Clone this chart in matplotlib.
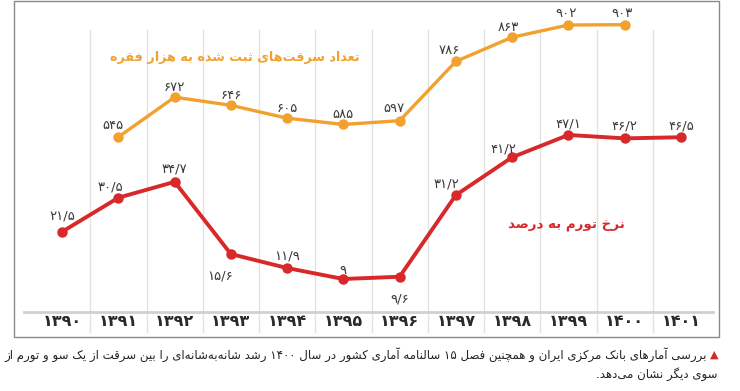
import re
import matplotlib
matplotlib.use('Agg')
import matplotlib.pyplot as plt
from matplotlib.patches import Rectangle
from matplotlib.lines import Line2D

years = ['1390', '1391', '1392', '1393', '1394', '1395', '1396', '1397', '1398', '1399', '1400', '1401']
theft_years = ['1391', '1392', '1393', '1394', '1395', '1396', '1397', '1398', '1399', '1400']
theft = [545, 672, 646, 605, 585, 597, 786, 863, 902, 903]
inflation = [21.5, 30.5, 34.7, 15.6, 11.9, 9, 9.6, 31.2, 41.2, 47.1, 46.2, 46.5]

theft_title = 'تعداد سرقت‌های ثبت شده به هزار فقره'
infl_title = 'نرخ تورم به درصد'
caption1 = 'بررسی آمارهای بانک مرکزی ایران و همچنین فصل ۱۵ سالنامه آماری کشور در سال ۱۴۰۰ رشد شانه‌به‌شانه‌ای را بین سرقت از یک سو و تورم از'
caption2 = 'سوی دیگر نشان می‌دهد.'

# label offsets in points (dx, dy) for value labels
infl_off = [(0, 11), (-6, 8), (0, 9), (-8, -16), (0, 9), (0, 6), (0, -16), (-7, 8), (-6, 6), (0, 8), (0, 9), (0, 8)]
theft_off = [(-4, 8), (0, 7), (0, 7), (0, 7), (0, 7), (-4, 9), (-5, 8), (-3, 7), (-2, 8), (-2, 8)]

# minimal Persian shaping with presentation forms (iso, fin, ini, med)
FORMS = {
    'آ': ('\uFE81', '\uFE82', None, None), 'ا': ('\uFE8D', '\uFE8E', None, None),
    'ب': ('\uFE8F', '\uFE90', '\uFE91', '\uFE92'), 'پ': ('\uFB56', '\uFB57', '\uFB58', '\uFB59'),
    'ت': ('\uFE95', '\uFE96', '\uFE97', '\uFE98'), 'ث': ('\uFE99', '\uFE9A', '\uFE9B', '\uFE9C'),
    'ج': ('\uFE9D', '\uFE9E', '\uFE9F', '\uFEA0'), 'چ': ('\uFB7A', '\uFB7B', '\uFB7C', '\uFB7D'),
    'ح': ('\uFEA1', '\uFEA2', '\uFEA3', '\uFEA4'), 'خ': ('\uFEA5', '\uFEA6', '\uFEA7', '\uFEA8'),
    'د': ('\uFEA9', '\uFEAA', None, None), 'ذ': ('\uFEAB', '\uFEAC', None, None),
    'ر': ('\uFEAD', '\uFEAE', None, None), 'ز': ('\uFEAF', '\uFEB0', None, None),
    'ژ': ('\uFB8A', '\uFB8B', None, None),
    'س': ('\uFEB1', '\uFEB2', '\uFEB3', '\uFEB4'), 'ش': ('\uFEB5', '\uFEB6', '\uFEB7', '\uFEB8'),
    'ص': ('\uFEB9', '\uFEBA', '\uFEBB', '\uFEBC'), 'ض': ('\uFEBD', '\uFEBE', '\uFEBF', '\uFEC0'),
    'ط': ('\uFEC1', '\uFEC2', '\uFEC3', '\uFEC4'), 'ظ': ('\uFEC5', '\uFEC6', '\uFEC7', '\uFEC8'),
    'ع': ('\uFEC9', '\uFECA', '\uFECB', '\uFECC'), 'غ': ('\uFECD', '\uFECE', '\uFECF', '\uFED0'),
    'ف': ('\uFED1', '\uFED2', '\uFED3', '\uFED4'), 'ق': ('\uFED5', '\uFED6', '\uFED7', '\uFED8'),
    'ک': ('\uFB8E', '\uFB8F', '\uFB90', '\uFB91'), 'گ': ('\uFB92', '\uFB93', '\uFB94', '\uFB95'),
    'ل': ('\uFEDD', '\uFEDE', '\uFEDF', '\uFEE0'), 'م': ('\uFEE1', '\uFEE2', '\uFEE3', '\uFEE4'),
    'ن': ('\uFEE5', '\uFEE6', '\uFEE7', '\uFEE8'), 'و': ('\uFEED', '\uFEEE', None, None),
    'ه': ('\uFEE9', '\uFEEA', '\uFEEB', '\uFEEC'), 'ی': ('\uFBFC', '\uFBFD', '\uFBFE', '\uFBFF'),
}


def fa(s):
    out = []
    for i, ch in enumerate(s):
        if ch not in FORMS:
            if ch != '\u200c':
                out.append(ch)
            continue
        prev = s[i - 1] if i > 0 else ''
        nxt = s[i + 1] if i + 1 < len(s) else ''
        jp = prev in FORMS and FORMS[prev][2] is not None
        jn = FORMS[ch][2] is not None and nxt in FORMS
        f = FORMS[ch]
        if jp and jn:
            out.append(f[3])
        elif jp:
            out.append(f[1])
        elif jn:
            out.append(f[2])
        else:
            out.append(f[0])
    vis = ''.join(out)[::-1]
    return re.sub('[۰-۹]+', lambda m: m.group(0)[::-1], vis)


def num(v):
    s = ('%g' % v).replace('.', '/')
    return s.translate(str.maketrans('0123456789', '۰۱۲۳۴۵۶۷۸۹'))


plt.rcParams['font.family'] = ['DejaVu Sans']

orange = '#F2A12E'
red = '#D8282A'
txt = '#3a3a3a'

fig = plt.figure(figsize=(7.4, 3.91), dpi=100)
W, H = 740, 391
ax = fig.add_axes([34 / W, (H - 312) / H, 675 / W, 312 / H])
ax2 = ax.twinx()
for a in (ax, ax2):
    a.set_axis_off()
    a.set_xlim(-0.5, 11.5)
ax.set_ylim(0.27, 82.8)
ax2.set_ylim(-12.8, 981.7)

xi = list(range(len(years)))
ti = [years.index(y) for y in theft_years]

# grid separators
for k in range(len(years) - 1):
    ax.plot([k + 0.5, k + 0.5], [1 - 30 / 312, -20 / 312], transform=ax.get_xaxis_transform(),
            color='#e2e2e2', lw=1, clip_on=False, zorder=0)

ax.plot(xi, inflation, color=red, lw=2.8, marker='o', ms=6.5, clip_on=False, zorder=3)
ax2.plot(ti, theft, color=orange, lw=2.4, marker='o', ms=6.5, clip_on=False, zorder=3)

for x, v, (dx, dy) in zip(xi, inflation, infl_off):
    ax.annotate(num(v), (x, v), xytext=(dx, dy), textcoords='offset points', ha='center', va='center',
                fontsize=9.5, color=txt, annotation_clip=False)
for x, v, (dx, dy) in zip(ti, theft, theft_off):
    ax2.annotate(num(v), (x, v), xytext=(dx, dy), textcoords='offset points', ha='center', va='center',
                 fontsize=9.5, color=txt, annotation_clip=False)

fig.text(235 / W, 1 - 58 / H, fa(theft_title), color=orange, fontsize=9.2, fontweight='bold',
         ha='center', va='center')
fig.text(566 / W, 1 - 226 / H, fa(infl_title), color=red, fontsize=9.6, fontweight='bold',
         ha='center', va='center')

# category band
for x, y in zip(xi, years):
    ax.text(x, -10 / 312, num(int(y)), transform=ax.get_xaxis_transform(), ha='center', va='center',
            fontsize=11.5, fontweight='bold', color='#2a2a2a')
fig.add_artist(Line2D([24 / W, 713 / W], [1 - 312 / H, 1 - 312 / H], color='#d0d0d0', lw=2))
fig.add_artist(Rectangle((14 / W, 1 - 337 / H), 705 / W, 336.5 / H, fill=False,
                         edgecolor='#8a8a8a', lw=1))

# caption
fig.text(718 / W, 1 - 355 / H, '▲', color='#d52a2a', fontsize=8, ha='right', va='center')
fig.text(707 / W, 1 - 355 / H, fa(caption1), color='#222222', fontsize=8.5, ha='right', va='center')
fig.text(718 / W, 1 - 374 / H, fa(caption2), color='#222222', fontsize=8.5, ha='right', va='center')

fig.savefig('out.png', dpi=100)
